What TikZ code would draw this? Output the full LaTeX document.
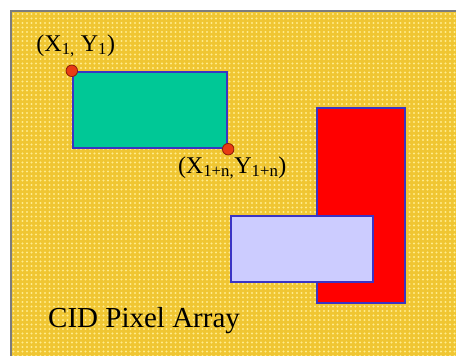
\documentclass[tikz,border=0pt]{standalone}
\usepackage{fontspec}
\setmainfont{Liberation Serif}
\usepackage{tikz}
\usetikzlibrary{positioning, patterns.meta}
\definecolor{arrayyellow}{RGB}{240, 198, 50}
\definecolor{arraylight}{RGB}{255, 236, 140}
\definecolor{framegray}{RGB}{125, 125, 125}
\definecolor{edgeblue}{RGB}{58, 52, 196}
\definecolor{roigreen}{RGB}{0, 200, 150}
\definecolor{roired}{RGB}{255, 0, 0}
\definecolor{roilavender}{RGB}{204, 204, 255}
\definecolor{cornerred}{RGB}{232, 60, 20}
\definecolor{cornerdark}{RGB}{140, 30, 10}

\begin{document}
\begin{tikzpicture}[x=1pt, y=-1pt,
    roibox/.style={draw=edgeblue, line width=2.4pt, inner sep=0pt},
    cornerdot/.style={circle, fill=cornerred, draw=cornerdark, line width=0.8pt,
      minimum size=11.5pt, inner sep=0pt},
    coordlabel/.style={font=\fontsize{24}{28}\selectfont, inner sep=0pt}]
    % ── Page and pixel array background ────────────────────────────
    \useasboundingbox (0,0) rectangle (456,356);
    \fill[white] (0,0) rectangle (456,356);
    \fill[arrayyellow] (11,11) rectangle (456,356);
    \fill[pattern={Dots[distance=4.5pt, radius=1.2pt]}, pattern color=arraylight]
    (12,12) rectangle (456,356);
    \draw[framegray, line width=2pt] (456,11) -- (11,11) -- (11,356);
    
    % ── Regions of interest ────────────────────────────────────────
    \node[roibox, fill=roigreen, minimum width=154pt, minimum height=76pt]
    (green) at (150,110) {};
    \node[roibox, fill=roired, minimum width=88pt, minimum height=195pt]
    (red) at (361,205.5) {};
    \node[roibox, fill=roilavender, minimum width=142pt, minimum height=66pt]
    (lavender) at (302,249) {};
    
    % ── Corner points + labels ─────────────────────────────────────
    \node[cornerdot] (topleft) at (green.north west) {};
    \node[cornerdot] (bottomright) at (green.south east) {};
    \node[coordlabel, above=7pt of topleft, xshift=4pt] (topleftlbl)
    {(X\textsubscript{1,} Y\textsubscript{1})};
    \node[coordlabel, below=1pt of bottomright, xshift=4pt] (bottomrightlbl)
    {(X\textsubscript{1+n,}Y\textsubscript{1+n})};
    
    % ── Caption ─────────────────────────────────────────────────────
    \node[anchor=base west, inner sep=0pt, font=\fontsize{29}{33}\selectfont]
    (caption) at (48,327) {CID Pixel Array};
\end{tikzpicture}
\end{document}
